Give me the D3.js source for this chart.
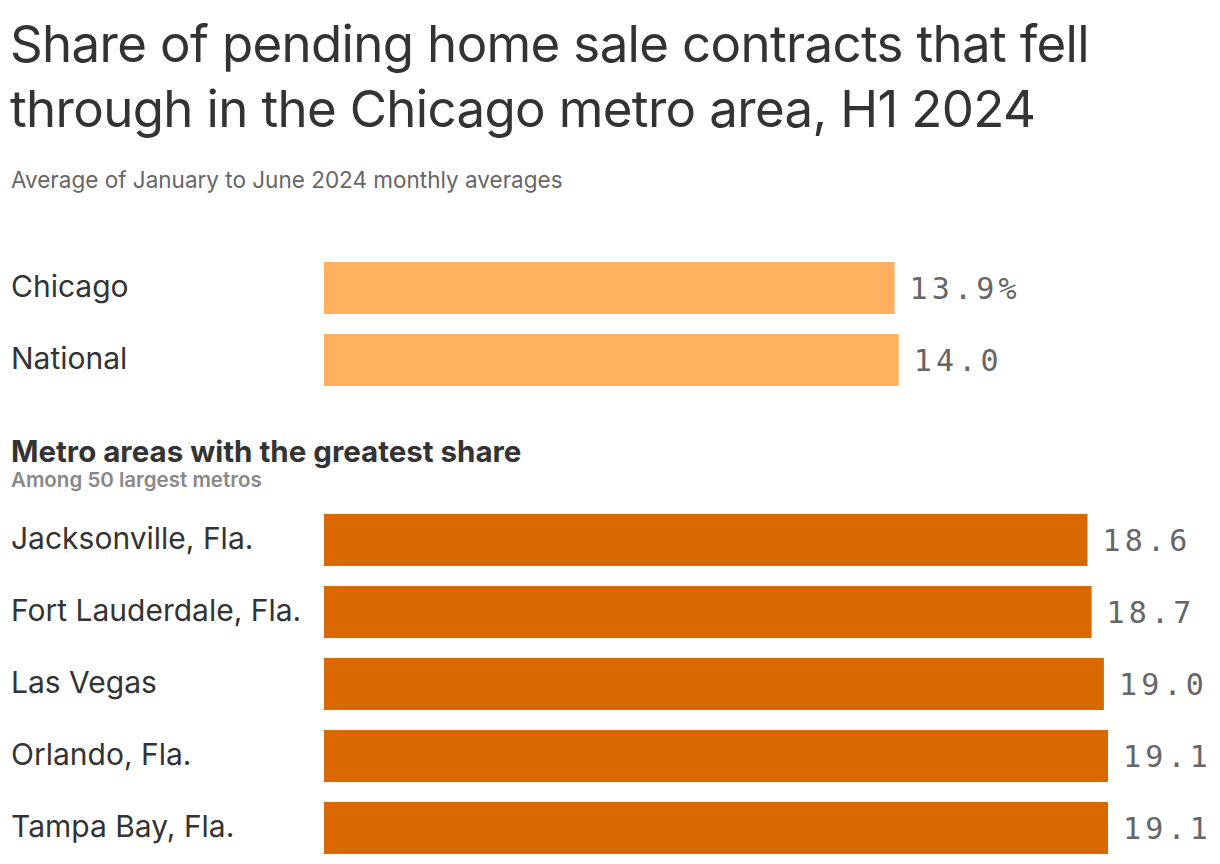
<!DOCTYPE html>
<html>
<head>
<meta charset="utf-8">
<script src="https://cdn.jsdelivr.net/npm/d3@7"></script>
<style>
  html, body { margin: 0; padding: 0; background: #fff; }
  svg { display: block; }
  .title { font-family: Inter, "Noto Sans", sans-serif; fill: #333; }
  .label { font-family: Inter, "Noto Sans", sans-serif; fill: #333; }
  .value { font-family: "DejaVu Sans Mono", "Liberation Mono", monospace; fill: #666; }
</style>
</head>
<body>
<svg id="chart"></svg>
<script>
const width = 1220, height = 864;

// data
const topCategories = ["Chicago", "National"];
const topValues = [13.9, 14.0];
const metroCategories = ["Jacksonville, Fla.", "Fort Lauderdale, Fla.", "Las Vegas", "Orlando, Fla.", "Tampa Bay, Fla."];
const metroValues = [18.6, 18.7, 19.0, 19.1, 19.1];

const svg = d3.select("#chart")
    .attr("width", width)
    .attr("height", height);

const barLeft = 324;
const x = d3.scaleLinear()
    .domain([0, d3.max(metroValues)])
    .range([0, 784]);

// titles
svg.append("text").attr("class", "title")
    .attr("x", 10).attr("y", 62)
    .style("font-size", "51px")
    .style("letter-spacing", "-0.65px")
    .text("Share of pending home sale contracts that fell");
svg.append("text").attr("class", "title")
    .attr("x", 10).attr("y", 127)
    .style("font-size", "51px")
    .style("letter-spacing", "-0.65px")
    .text("through in the Chicago metro area, H1 2024");
svg.append("text").attr("class", "label")
    .attr("x", 11).attr("y", 188)
    .style("font-size", "22.5px")
    .style("letter-spacing", "0px")
    .style("fill", "#666")
    .text("Average of January to June 2024 monthly averages");

svg.append("text").attr("class", "label")
    .attr("x", 11).attr("y", 462)
    .style("font-size", "29.5px")
    .style("letter-spacing", "0px")
    .style("font-weight", 700)
    .text("Metro areas with the greatest share");
svg.append("text").attr("class", "label")
    .attr("x", 11).attr("y", 487)
    .style("font-size", "20.5px")
    .style("font-weight", 600)
    .style("fill", "#888")
    .text("Among 50 largest metros");

function drawGroup(cats, vals, y0, color, firstSuffix) {
    const y = d3.scaleBand()
        .domain(cats)
        .range([y0, y0 + cats.length * 72 - 20])
        .paddingInner(20 / 72)
        .paddingOuter(0);
    const rows = cats.map((c, i) => ({ name: c, value: vals[i], i }));
    const g = svg.append("g");

    g.selectAll("rect")
        .data(rows)
        .enter()
        .append("rect")
        .attr("x", barLeft)
        .attr("y", d => y(d.name))
        .attr("width", d => x(d.value))
        .attr("height", y.bandwidth())
        .attr("fill", color);

    g.selectAll("text.label")
        .data(rows)
        .enter()
        .append("text")
        .attr("class", "label")
        .attr("x", 11)
        .attr("y", d => y(d.name) + y.bandwidth() / 2)
        .attr("dy", "0.3em")
        .style("font-size", "30px")
        .text(d => d.name);

    g.selectAll("text.value")
        .data(rows)
        .enter()
        .append("text")
        .attr("class", "value")
        .attr("x", d => barLeft + x(d.value) + 15)
        .attr("y", d => y(d.name) + y.bandwidth() / 2)
        .attr("dy", "0.36em")
        .style("font-size", "30px")
        .style("letter-spacing", "4.2px")
        .text(d => d.value.toFixed(1) + (firstSuffix && d.i === 0 ? "%" : ""));
}

drawGroup(topCategories, topValues, 262, "#ffb05e", true);
drawGroup(metroCategories, metroValues, 514, "#d96800", false);
</script>
</body>
</html>
